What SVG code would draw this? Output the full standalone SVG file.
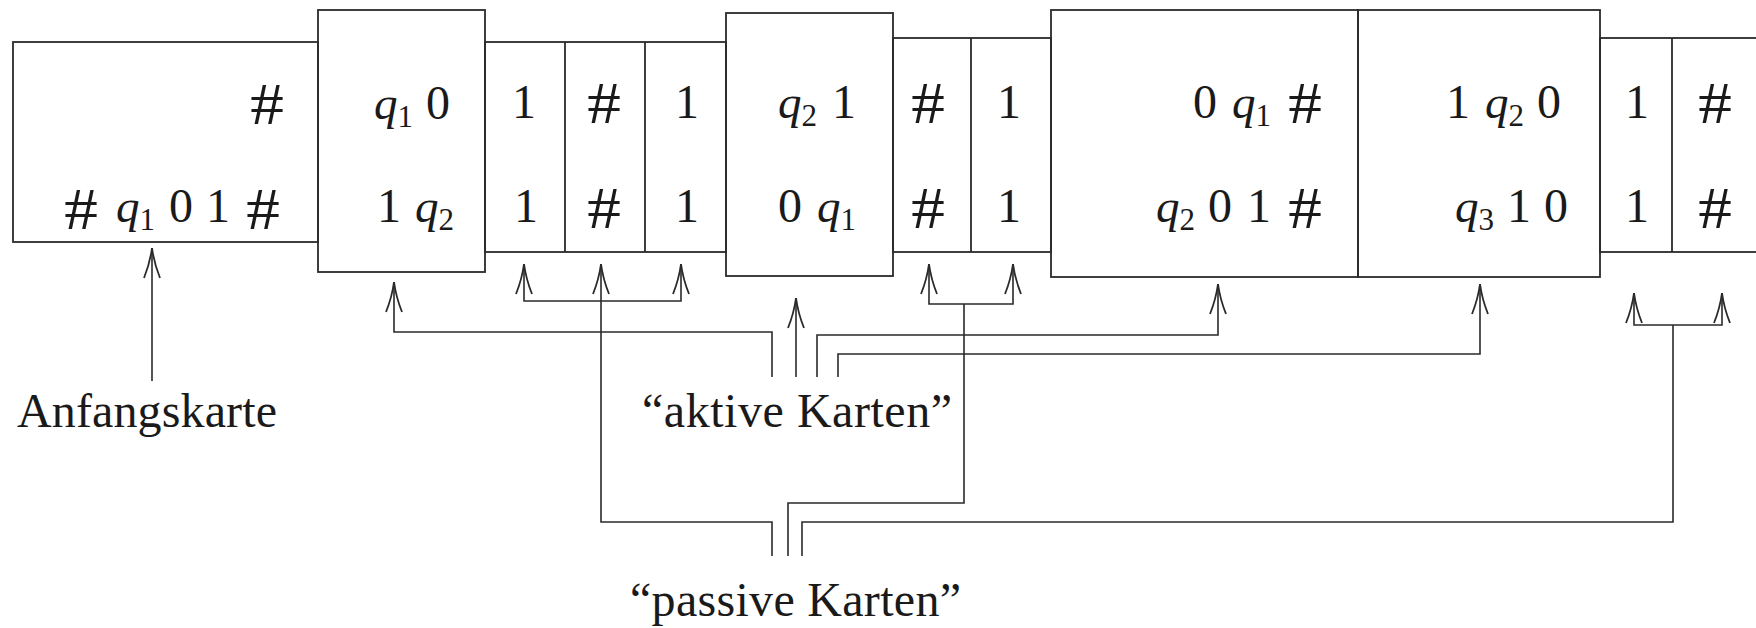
<svg xmlns="http://www.w3.org/2000/svg" width="1756" height="628" viewBox="0 0 1756 628">
<style>
.box{fill:none;stroke:#2a2a2a;stroke-width:1.8}
.t{font-family:"Liberation Serif",serif;font-size:48px;fill:#1a1a1a;text-anchor:middle}
.h{font-family:"Liberation Serif",serif;font-size:48px;fill:#1a1a1a;text-anchor:middle}
.q{font-family:"Liberation Serif",serif;font-size:47px;font-style:italic;fill:#1a1a1a;text-anchor:start}
.sub{font-style:normal;font-size:31px}
.lbl{font-family:"Liberation Serif",serif;font-size:48px;fill:#1a1a1a}
.c{fill:none;stroke:#2a2a2a;stroke-width:1.6}
.a{fill:none;stroke:#2a2a2a;stroke-width:1.6;marker-end:url(#ah)}
</style>
<defs>
<marker id="ah" markerUnits="userSpaceOnUse" markerWidth="40" markerHeight="20" viewBox="-32 -10 40 20" refX="0" refY="0" orient="auto" overflow="visible">
<path d="M-30,-8 Q-15,-2 0,0 Q-15,2 -30,8" fill="none" stroke="#2a2a2a" stroke-width="1.8"/>
</marker>
</defs>

<g id="start-card">
<rect class="box" x="13" y="42" width="305" height="200"/>
<text class="h" transform="translate(267,124) scale(1.4,1.25)">#</text>
<text class="h" transform="translate(81,229) scale(1.4,1.25)">#</text>
<text class="q" x="116" y="222">q<tspan class="sub" dy="8">1</tspan></text>
<text class="t" x="181" y="222">0</text>
<text class="t" x="218" y="222">1</text>
<text class="h" transform="translate(263,229) scale(1.4,1.25)">#</text>
</g>

<g id="card-q1-0">
<rect class="box" x="318" y="10" width="167" height="262"/>
<text class="q" x="374" y="119">q<tspan class="sub" dy="8">1</tspan></text>
<text class="t" x="438" y="119">0</text>
<text class="t" x="389" y="222">1</text>
<text class="q" x="415" y="222">q<tspan class="sub" dy="8">2</tspan></text>
</g>

<g id="cells-1">
<rect class="box" x="485" y="42" width="241" height="210"/>
<line class="box" x1="565" y1="42" x2="565" y2="252"/>
<line class="box" x1="645" y1="42" x2="645" y2="252"/>
<text class="t" x="524" y="118">1</text>
<text class="h" transform="translate(604,123) scale(1.4,1.25)">#</text>
<text class="t" x="687" y="118">1</text>
<text class="t" x="526" y="222">1</text>
<text class="h" transform="translate(604,228) scale(1.4,1.25)">#</text>
<text class="t" x="687" y="222">1</text>
</g>

<g id="card-q2-1">
<rect class="box" x="726" y="13" width="167" height="263"/>
<text class="q" x="778" y="118">q<tspan class="sub" dy="8">2</tspan></text>
<text class="t" x="844" y="118">1</text>
<text class="t" x="790" y="222">0</text>
<text class="q" x="817" y="222">q<tspan class="sub" dy="8">1</tspan></text>
</g>

<g id="cells-2">
<rect class="box" x="893" y="38" width="158" height="214"/>
<line class="box" x1="971" y1="38" x2="971" y2="252"/>
<text class="h" transform="translate(928,123) scale(1.4,1.25)">#</text>
<text class="t" x="1009" y="118">1</text>
<text class="h" transform="translate(928,228) scale(1.4,1.25)">#</text>
<text class="t" x="1009" y="222">1</text>
</g>

<g id="card-0q1">
<rect class="box" x="1051" y="10" width="307" height="267"/>
<text class="t" x="1205" y="118">0</text>
<text class="q" x="1232" y="118">q<tspan class="sub" dy="8">1</tspan></text>
<text class="h" transform="translate(1305,123) scale(1.4,1.25)">#</text>
<text class="q" x="1156" y="222">q<tspan class="sub" dy="8">2</tspan></text>
<text class="t" x="1220" y="222">0</text>
<text class="t" x="1259" y="222">1</text>
<text class="h" transform="translate(1305,228) scale(1.4,1.25)">#</text>
</g>

<g id="card-1q2">
<rect class="box" x="1358" y="10" width="242" height="267"/>
<text class="t" x="1458" y="118">1</text>
<text class="q" x="1485" y="118">q<tspan class="sub" dy="8">2</tspan></text>
<text class="t" x="1549" y="118">0</text>
<text class="q" x="1455" y="222">q<tspan class="sub" dy="8">3</tspan></text>
<text class="t" x="1519" y="222">1</text>
<text class="t" x="1556" y="222">0</text>
</g>

<g id="cells-3">
<rect class="box" x="1600" y="38" width="160" height="214"/>
<line class="box" x1="1672" y1="38" x2="1672" y2="252"/>
<text class="t" x="1637" y="118">1</text>
<text class="h" transform="translate(1715,123) scale(1.4,1.25)">#</text>
<text class="t" x="1637" y="222">1</text>
<text class="h" transform="translate(1715,228) scale(1.4,1.25)">#</text>
</g>

<g id="label-anfang">
<text class="lbl" x="17" y="427" textLength="260" lengthAdjust="spacing">Anfangskarte</text>
</g>
<g id="label-aktiv">
<text class="lbl" x="642" y="427" textLength="310" lengthAdjust="spacing">“aktive Karten”</text>
</g>
<g id="label-passiv">
<text class="lbl" x="630" y="616" textLength="331" lengthAdjust="spacing">“passive Karten”</text>
</g>

<g id="connectors">
<path class="a" d="M152,381 V248"/>
<path class="a" d="M772,377 V332 H394 V282"/>
<path class="a" d="M796,377 V298"/>
<path class="a" d="M817,377 V335 H1218 V284"/>
<path class="a" d="M838,377 V354 H1480 V284"/>
<path class="a" d="M772,556 V522 H601 V264"/>
<path class="a" d="M601,301 H524 V264"/>
<path class="a" d="M601,301 H681 V264"/>
<path class="c" d="M788,556 V503 H964 V304"/>
<path class="a" d="M964,304 H929 V264"/>
<path class="a" d="M964,304 H1013 V264"/>
<path class="c" d="M802,556 V522 H1673 V325"/>
<path class="a" d="M1673,325 H1634 V293"/>
<path class="a" d="M1673,325 H1722 V293"/>
</g>
</svg>
